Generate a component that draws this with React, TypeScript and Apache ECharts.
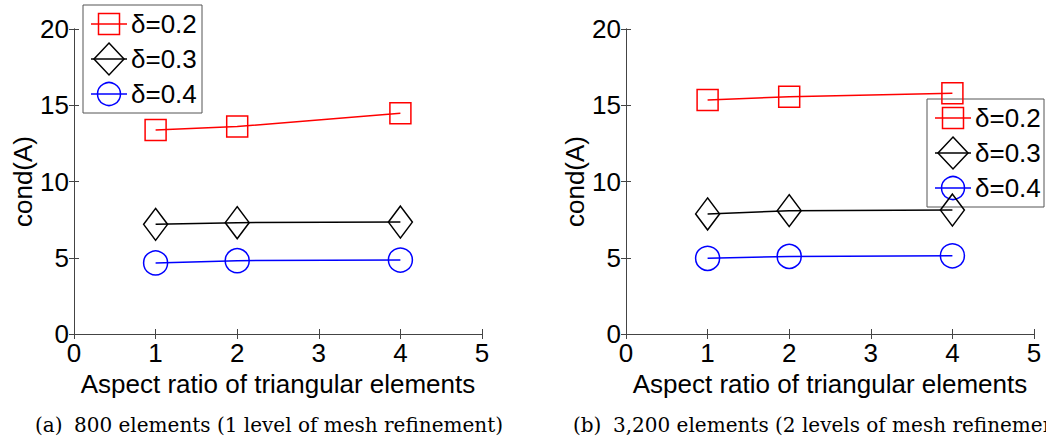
import React, { useEffect, useRef } from "react";
import * as echarts from "echarts";

// ---- data ----
const aspectRatios = [1, 2, 4];
const seriesNames = ["δ=0.2", "δ=0.3", "δ=0.4"];
// (a) 800 elements
const condA800_d02 = [13.38, 13.6, 14.47];
const condA800_d03 = [7.19, 7.3, 7.34];
const condA800_d04 = [4.66, 4.81, 4.85];
// (b) 3,200 elements
const condA3200_d02 = [15.34, 15.56, 15.78];
const condA3200_d03 = [7.87, 8.09, 8.13];
const condA3200_d04 = [4.96, 5.09, 5.13];

const xTickMin = 0, xTickMax = 5, xTickStep = 1;
const yTickMin = 0, yTickMax = 20, yTickStep = 5;
const xTitle = "Aspect ratio of triangular elements";
const yTitle = "cond(A)";
const captionTagA = "(a)";
const captionA = "800 elements (1 level of mesh refinement)";
const captionTagB = "(b)";
const captionB = "3,200 elements (2 levels of mesh refinement)";

const colors = ["#ff0000", "#000000", "#0000ff"];
const symbols = ["rect", "diamond", "circle"];
const symbolSizes: any[] = [21, [24, 32], 24];

const SANS = '"Liberation Sans", Arial, sans-serif';
const SERIF = '"DejaVu Serif", serif';
const AXIS_COLOR = "#444";
const FS = 26;

function mainX(gridIndex: number) {
  return {
    type: "value", gridIndex, position: "bottom",
    min: xTickMin, max: xTickMax, interval: xTickStep,
    name: xTitle, nameLocation: "middle", nameGap: 33,
    nameTextStyle: { fontSize: FS, fontFamily: SANS, color: "#000" },
    axisLine: { show: true, lineStyle: { color: AXIS_COLOR, width: 1 } },
    axisTick: { show: true, inside: true, length: 5, lineStyle: { color: AXIS_COLOR } },
    axisLabel: { show: true, margin: 6, fontSize: FS, fontFamily: SANS, color: "#000" },
    splitLine: { show: false },
  };
}
function boxX(gridIndex: number) {
  return {
    type: "value", gridIndex, position: "top",
    min: xTickMin, max: xTickMax, interval: xTickStep,
    axisLine: { show: true, lineStyle: { color: AXIS_COLOR, width: 1 } },
    axisTick: { show: true, inside: true, length: 5, lineStyle: { color: AXIS_COLOR } },
    axisLabel: { show: false },
    splitLine: { show: false },
  };
}
function mainY(gridIndex: number) {
  return {
    type: "value", gridIndex, position: "left",
    min: yTickMin, max: yTickMax, interval: yTickStep,
    name: yTitle, nameLocation: "middle", nameGap: 38,
    nameTextStyle: { fontSize: FS, fontFamily: SANS, color: "#000" },
    axisLine: { show: true, lineStyle: { color: AXIS_COLOR, width: 1 } },
    axisTick: { show: true, inside: true, length: 5, lineStyle: { color: AXIS_COLOR } },
    axisLabel: { show: true, margin: 5, fontSize: FS, fontFamily: SANS, color: "#000" },
    splitLine: { show: false },
  };
}
function boxY(gridIndex: number) {
  return {
    type: "value", gridIndex, position: "right",
    min: yTickMin, max: yTickMax, interval: yTickStep,
    axisLine: { show: true, lineStyle: { color: AXIS_COLOR, width: 1 } },
    axisTick: { show: true, inside: true, length: 5, lineStyle: { color: AXIS_COLOR } },
    axisLabel: { show: false },
    splitLine: { show: false },
  };
}

function makeSeries(name: string, values: number[], idx: number, axisIndex: number) {
  return {
    type: "line",
    name,
    xAxisIndex: axisIndex,
    yAxisIndex: axisIndex,
    data: aspectRatios.map((x, i) => [x, values[i]]),
    symbol: symbols[idx],
    symbolSize: symbolSizes[idx],
    showAllSymbol: true,
    lineStyle: { color: colors[idx], width: 1.5 },
    itemStyle: { color: "rgba(0,0,0,0)", borderColor: colors[idx], borderWidth: 1.5 },
    emphasis: { disabled: true },
    z: 3,
  };
}

function legendGraphic(bx: number, by: number, bw: number, bh: number) {
  const children: any[] = [
    { type: "rect", shape: { x: bx, y: by, width: bw, height: bh },
      style: { fill: "#fff", stroke: "#555", lineWidth: 1 } },
  ];
  seriesNames.forEach((name, i) => {
    const cy = by + 19 + i * 35;
    const x0 = bx + 8, x1 = bx + 44, cx = bx + 26;
    const c = colors[i];
    children.push({ type: "line", shape: { x1: x0, y1: cy, x2: x1, y2: cy }, style: { stroke: c, lineWidth: 1.5 } });
    if (i === 0) {
      children.push({ type: "rect", shape: { x: cx - 10.5, y: cy - 10.5, width: 21, height: 21 },
        style: { fill: "none", stroke: c, lineWidth: 1.5 } });
    } else if (i === 1) {
      children.push({ type: "polygon", shape: { points: [[cx, cy - 16], [cx + 15, cy], [cx, cy + 16], [cx - 15, cy]] },
        style: { fill: "none", stroke: c, lineWidth: 1.5 } });
    } else {
      children.push({ type: "circle", shape: { cx, cy, r: 11.5 }, style: { fill: "none", stroke: c, lineWidth: 1.5 } });
    }
    children.push({ type: "text", x: bx + 48, y: cy,
      style: { text: name, fontSize: FS, fontFamily: SANS, fill: "#000", verticalAlign: "middle", align: "left" } });
  });
  return { type: "group", z: 100, children };
}

export default function App() {
  const ref = useRef<HTMLDivElement>(null);
  useEffect(() => {
    if (!ref.current) return;
    const chart = echarts.init(ref.current, undefined, { renderer: "svg" });
    const option: any = {
      animation: false,
      backgroundColor: "#fff",
      grid: [
        { left: 74, top: 29, width: 408, height: 305, containLabel: false },
        { left: 626, top: 29, width: 408, height: 305, containLabel: false },
      ],
      xAxis: [mainX(0), boxX(0), mainX(1), boxX(1)],
      yAxis: [mainY(0), boxY(0), mainY(1), boxY(1)],
      series: [
        makeSeries(seriesNames[0], condA800_d02, 0, 0),
        makeSeries(seriesNames[1], condA800_d03, 1, 0),
        makeSeries(seriesNames[2], condA800_d04, 2, 0),
        makeSeries(seriesNames[0], condA3200_d02, 0, 2),
        makeSeries(seriesNames[1], condA3200_d03, 1, 2),
        makeSeries(seriesNames[2], condA3200_d04, 2, 2),
      ],
      graphic: [
        legendGraphic(83, 5, 119, 108),
        legendGraphic(927, 99, 117, 108),
        { type: "text", x: 35, y: 425, style: { text: captionTagA, fontSize: 20, fontFamily: SERIF, fill: "#000", verticalAlign: "middle" } },
        { type: "text", x: 74, y: 425, style: { text: captionA, fontSize: 20, fontFamily: SERIF, fill: "#000", verticalAlign: "middle" } },
        { type: "text", x: 573, y: 425, style: { text: captionTagB, fontSize: 20, fontFamily: SERIF, fill: "#000", verticalAlign: "middle" } },
        { type: "text", x: 613, y: 425, style: { text: captionB, fontSize: 20, fontFamily: SERIF, fill: "#000", verticalAlign: "middle" } },
      ],
    };
    chart.setOption(option);
    return () => chart.dispose();
  }, []);
  return <div ref={ref} style={{ position: "absolute", left: 0, top: 0, width: 1046, height: 444 }} />;
}
